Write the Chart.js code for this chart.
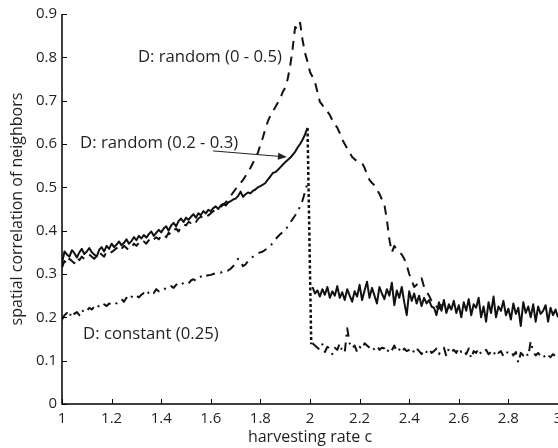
<!DOCTYPE html>
<html>
<head>
<meta charset="utf-8">
<script src="https://cdn.jsdelivr.net/npm/chart.js@4.4.0/dist/chart.umd.min.js"></script>
<style>
  html, body { margin: 0; padding: 0; background: #fff; }
  #wrap { width: 558px; height: 448px; }
</style>
</head>
<body>
<div id="wrap"><canvas id="corrChart" width="558" height="448"></canvas></div>
<script>
// harvesting rate grid (0.01 steps from 1 to 3)
const rates = Array.from({ length: 201 }, (_, i) => +(1 + i * 0.01).toFixed(2));

// D: random (0.2 - 0.3) -> solid line
const corrRandomNarrow = [
  0.325, 0.352, 0.345, 0.34, 0.355, 0.348, 0.338, 0.35, 0.358, 0.346,
  0.352, 0.36, 0.35, 0.345, 0.34, 0.356, 0.362, 0.352, 0.365, 0.358,
  0.37, 0.362, 0.368, 0.375, 0.366, 0.372, 0.38, 0.37, 0.376, 0.385,
  0.378, 0.388, 0.382, 0.39, 0.384, 0.392, 0.398, 0.388, 0.395, 0.402,
  0.396, 0.405, 0.41, 0.4, 0.412, 0.418, 0.41, 0.422, 0.428, 0.42,
  0.43, 0.425, 0.432, 0.438, 0.43, 0.44, 0.436, 0.445, 0.44, 0.448,
  0.445, 0.452, 0.456, 0.45, 0.458, 0.462, 0.458, 0.465, 0.468, 0.472,
  0.474, 0.48, 0.49, 0.478, 0.484, 0.488, 0.486, 0.492, 0.495, 0.5,
  0.503, 0.506, 0.51, 0.518, 0.525, 0.533, 0.535, 0.54, 0.546, 0.552,
  0.558, 0.563, 0.568, 0.575, 0.582, 0.592, 0.6, 0.61, 0.622, 0.637,
  null, 0.27, 0.255, 0.262, 0.248, 0.265, 0.252, 0.27, 0.245, 0.26,
  0.25, 0.272, 0.245, 0.258, 0.24, 0.265, 0.25, 0.236, 0.26, 0.248,
  0.275, 0.24, 0.262, 0.282, 0.245, 0.268, 0.25, 0.232, 0.27, 0.255,
  0.242, 0.265, 0.25, 0.28, 0.228, 0.262, 0.245, 0.27, 0.235, 0.205,
  0.26, 0.238, 0.255, 0.232, 0.25, 0.226, 0.245, 0.232, 0.24, 0.225,
  0.222, 0.205, 0.235, 0.215, 0.24, 0.21, 0.23, 0.218, 0.238, 0.21,
  0.228, 0.2, 0.235, 0.215, 0.242, 0.205, 0.23, 0.222, 0.245, 0.2,
  0.225, 0.19, 0.235, 0.21, 0.248, 0.2, 0.225, 0.215, 0.238, 0.205,
  0.22, 0.195, 0.232, 0.208, 0.222, 0.18, 0.235, 0.21, 0.225, 0.2,
  0.23, 0.19, 0.225, 0.208, 0.215, 0.228, 0.19, 0.222, 0.205, 0.218, 0.2
];

// D: random (0 - 0.5) -> dashed line (hidden under the solid one after 2.6)
const corrRandomWide = [
  0.315, 0.33, 0.322, 0.335, 0.33, 0.325, 0.338, 0.332, 0.34, 0.335,
  0.338, 0.345, 0.34, 0.335, 0.342, 0.35, 0.345, 0.34, 0.352, 0.355,
  0.35, 0.355, 0.36, 0.352, 0.358, 0.365, 0.36, 0.355, 0.362, 0.37,
  0.365, 0.372, 0.368, 0.375, 0.37, 0.378, 0.372, 0.38, 0.385, 0.38,
  0.388, 0.392, 0.385, 0.395, 0.39, 0.4, 0.405, 0.398, 0.41, 0.415,
  0.412, 0.42, 0.418, 0.425, 0.42, 0.428, 0.432, 0.43, 0.438, 0.435,
  0.44, 0.445, 0.448, 0.452, 0.455, 0.46, 0.465, 0.472, 0.48, 0.488,
  0.496, 0.502, 0.51, 0.517, 0.526, 0.535, 0.545, 0.556, 0.568, 0.58,
  0.598, 0.615, 0.635, 0.652, 0.665, 0.675, 0.685, 0.695, 0.705, 0.72,
  0.73, 0.75, 0.78, 0.82, 0.87, 0.865, 0.88, 0.84, 0.81, 0.79,
  0.766, 0.755, 0.743, 0.72, 0.697, 0.69, 0.68, 0.675, 0.667, 0.655,
  0.645, 0.638, 0.625, 0.61, 0.6, 0.59, 0.58, 0.57, 0.565, 0.56,
  0.558, 0.556, 0.545, 0.53, 0.517, 0.51, 0.505, 0.494, 0.485, 0.472,
  0.46, 0.425, 0.38, 0.35, 0.365, 0.355, 0.35, 0.345, 0.335, 0.32,
  0.3, 0.285, 0.27, 0.275, 0.28, 0.29, 0.27, 0.26, 0.25, 0.238,
  0.235, 0.225, 0.22, 0.23, 0.225, 0.215, 0.225, 0.22, 0.215, 0.22
];

// D: constant (0.25) -> dash-dot line
const corrConstant = [
  0.195, 0.205, 0.21, 0.2, 0.215, 0.208, 0.212, 0.205, 0.218, 0.21,
  0.215, 0.222, 0.218, 0.225, 0.22, 0.228, 0.224, 0.23, 0.226, 0.232,
  0.23, 0.235, 0.232, 0.238, 0.242, 0.236, 0.245, 0.24, 0.248, 0.244,
  0.25, 0.246, 0.252, 0.256, 0.25, 0.258, 0.262, 0.256, 0.265, 0.26,
  0.262, 0.268, 0.264, 0.27, 0.272, 0.268, 0.275, 0.278, 0.274, 0.28,
  0.282, 0.278, 0.285, 0.288, 0.284, 0.29, 0.294, 0.29, 0.296, 0.297,
  0.298, 0.3, 0.302, 0.305, 0.303, 0.306, 0.31, 0.308, 0.312, 0.318,
  0.325, 0.335, 0.33, 0.318, 0.322, 0.33, 0.335, 0.34, 0.345, 0.348,
  0.35, 0.352, 0.356, 0.36, 0.365, 0.372, 0.38, 0.386, 0.392, 0.397,
  0.4, 0.41, 0.418, 0.427, 0.435, 0.445, 0.455, 0.47, 0.49, 0.51,
  null, 0.14, 0.135, 0.13, 0.125, 0.138, 0.12, 0.132, 0.128, 0.115,
  0.13, 0.125, 0.14, 0.122, 0.118, 0.175, 0.14, 0.128, 0.135, 0.12,
  0.132, 0.126, 0.14, 0.135, 0.13, 0.122, 0.128, 0.135, 0.125, 0.13,
  0.128, 0.118, 0.13, 0.124, 0.135, 0.12, 0.126, 0.118, 0.128, 0.122,
  0.125, 0.13, 0.118, 0.128, 0.122, 0.115, 0.126, 0.12, 0.128, 0.118,
  0.122, 0.128, 0.115, 0.125, 0.13, 0.11, 0.128, 0.12, 0.125, 0.118,
  0.13, 0.12, 0.125, 0.115, 0.128, 0.105, 0.122, 0.118, 0.128, 0.115,
  0.122, 0.125, 0.115, 0.12, 0.112, 0.125, 0.118, 0.122, 0.11, 0.12,
  0.118, 0.122, 0.112, 0.12, 0.095, 0.118, 0.112, 0.12, 0.11, 0.145,
  0.12, 0.112, 0.118, 0.11, 0.115, 0.105, 0.112, 0.108, 0.115, 0.11, 0.108
];

// dotted drop at the critical harvesting rate
const dropRates = [1.99, 2.005];
const dropCorr = [0.637, 0.138];

// tick values
const xTicks = [1, 1.2, 1.4, 1.6, 1.8, 2, 2.2, 2.4, 2.6, 2.8, 3];
const yTicks = [0, 0.1, 0.2, 0.3, 0.4, 0.5, 0.6, 0.7, 0.8, 0.9];

const FONT = '"Open Sans", "DejaVu Sans", sans-serif';
const TEXT = '#231f20';
const LINE = '#111';

function toPoints(xs, ys) {
    return xs.map((x, i) => ({ x: x, y: ys[i] === undefined ? null : ys[i] }));
}

function tickText(value) {
    return String(+value.toFixed(1));
}

// axes with inward ticks, labels and arrow
const decorPlugin = {
    id: 'decor',
    afterDraw(chart) {
        const ctx = chart.ctx;
        const xs = chart.scales.x;
        const ys = chart.scales.y;
        const area = chart.chartArea;
        ctx.save();
        ctx.strokeStyle = '#000';
        ctx.lineWidth = 1.5;
        ctx.beginPath();
        ctx.moveTo(area.left, area.top);
        ctx.lineTo(area.left, area.bottom);
        ctx.lineTo(area.right, area.bottom);
        ctx.stroke();
        ctx.lineWidth = 1;
        ctx.beginPath();
        xTicks.forEach(v => {
            const px = Math.round(xs.getPixelForValue(v)) + 0.5;
            ctx.moveTo(px, area.bottom);
            ctx.lineTo(px, area.bottom - 5);
        });
        yTicks.forEach(v => {
            const py = Math.round(ys.getPixelForValue(v)) + 0.5;
            ctx.moveTo(area.left, py);
            ctx.lineTo(area.left + 5, py);
        });
        ctx.stroke();

        // series labels
        ctx.fillStyle = TEXT;
        ctx.font = '16.7px ' + FONT;
        ctx.textBaseline = 'middle';
        ctx.textAlign = 'left';
        const labels = [
            ['D: random (0 - 0.5)', 1.306, 0.80],
            ['D: random (0.2 - 0.3)', 1.073, 0.602],
            ['D: constant (0.25)', 1.085, 0.162]
        ];
        labels.forEach(([t, c, v]) => {
            ctx.fillText(t, xs.getPixelForValue(c), ys.getPixelForValue(v));
        });

        // arrow pointing at the solid curve
        const x0 = xs.getPixelForValue(1.609), y0 = ys.getPixelForValue(0.584);
        const x1 = xs.getPixelForValue(1.907), y1 = ys.getPixelForValue(0.570);
        const ang = Math.atan2(y1 - y0, x1 - x0);
        ctx.strokeStyle = '#222';
        ctx.lineWidth = 1;
        ctx.beginPath();
        ctx.moveTo(x0, y0);
        ctx.lineTo(x1 - 6 * Math.cos(ang), y1 - 6 * Math.sin(ang));
        ctx.stroke();
        ctx.fillStyle = '#222';
        ctx.beginPath();
        ctx.moveTo(x1, y1);
        ctx.lineTo(x1 - 9 * Math.cos(ang) + 3.5 * Math.sin(ang), y1 - 9 * Math.sin(ang) - 3.5 * Math.cos(ang));
        ctx.lineTo(x1 - 9 * Math.cos(ang) - 3.5 * Math.sin(ang), y1 - 9 * Math.sin(ang) + 3.5 * Math.cos(ang));
        ctx.closePath();
        ctx.fill();
        ctx.restore();
    }
};

const canvas = document.getElementById('corrChart');
new Chart(canvas.getContext('2d'), {
    type: 'line',
    data: {
        datasets: [
            {
                label: 'D: random (0.2 - 0.3)',
                data: toPoints(rates, corrRandomNarrow),
                borderColor: LINE,
                borderWidth: 2,
                order: 0
            },
            {
                label: 'drop',
                data: toPoints(dropRates, dropCorr),
                borderColor: LINE,
                borderWidth: 2.5,
                borderDash: [3, 2.5],
                order: 1
            },
            {
                label: 'D: constant (0.25)',
                data: toPoints(rates, corrConstant),
                borderColor: LINE,
                borderWidth: 2,
                borderDash: [9, 6, 2, 6],
                order: 2
            },
            {
                label: 'D: random (0 - 0.5)',
                data: toPoints(rates, corrRandomWide),
                borderColor: LINE,
                borderWidth: 2,
                borderDash: [9, 7],
                order: 3
            }
        ]
    },
    options: {
        responsive: false,
        animation: false,
        spanGaps: false,
        elements: {
            point: { radius: 0 },
            line: { tension: 0, fill: false, borderJoinStyle: 'round' }
        },
        plugins: {
            legend: { display: false },
            tooltip: { enabled: false }
        },
        layout: {
            padding: { top: 14, right: 0, bottom: 0, left: 0 }
        },
        scales: {
            x: {
                type: 'linear',
                min: 1,
                max: 3,
                afterBuildTicks(scale) {
                    scale.ticks = xTicks.map(v => ({ value: v }));
                },
                afterFit(scale) {
                    scale.height = 44;
                    scale.paddingLeft = 0;
                    scale.paddingRight = 0;
                },
                grid: { display: false, drawTicks: false },
                border: { display: false },
                ticks: {
                    color: TEXT,
                    padding: 6,
                    maxRotation: 0,
                    autoSkip: false,
                    callback: tickText,
                    font: { family: FONT, size: 15 }
                },
                title: {
                    display: true,
                    text: 'harvesting rate c',
                    color: TEXT,
                    padding: { top: 0, bottom: 1 },
                    font: { family: FONT, size: 16 }
                }
            },
            y: {
                min: 0,
                max: 0.9,
                afterBuildTicks(scale) {
                    scale.ticks = yTicks.map(v => ({ value: v }));
                },
                afterFit(scale) {
                    scale.width = 62;
                },
                grid: { display: false, drawTicks: false },
                border: { display: false },
                ticks: {
                    color: TEXT,
                    padding: 5,
                    callback: tickText,
                    font: { family: FONT, size: 15 }
                },
                title: {
                    display: true,
                    text: 'spatial correlation of neighbors',
                    color: TEXT,
                    padding: { top: 8, bottom: 0 },
                    font: { family: FONT, size: 16 }
                }
            }
        }
    },
    plugins: [decorPlugin]
});
</script>
</body>
</html>
